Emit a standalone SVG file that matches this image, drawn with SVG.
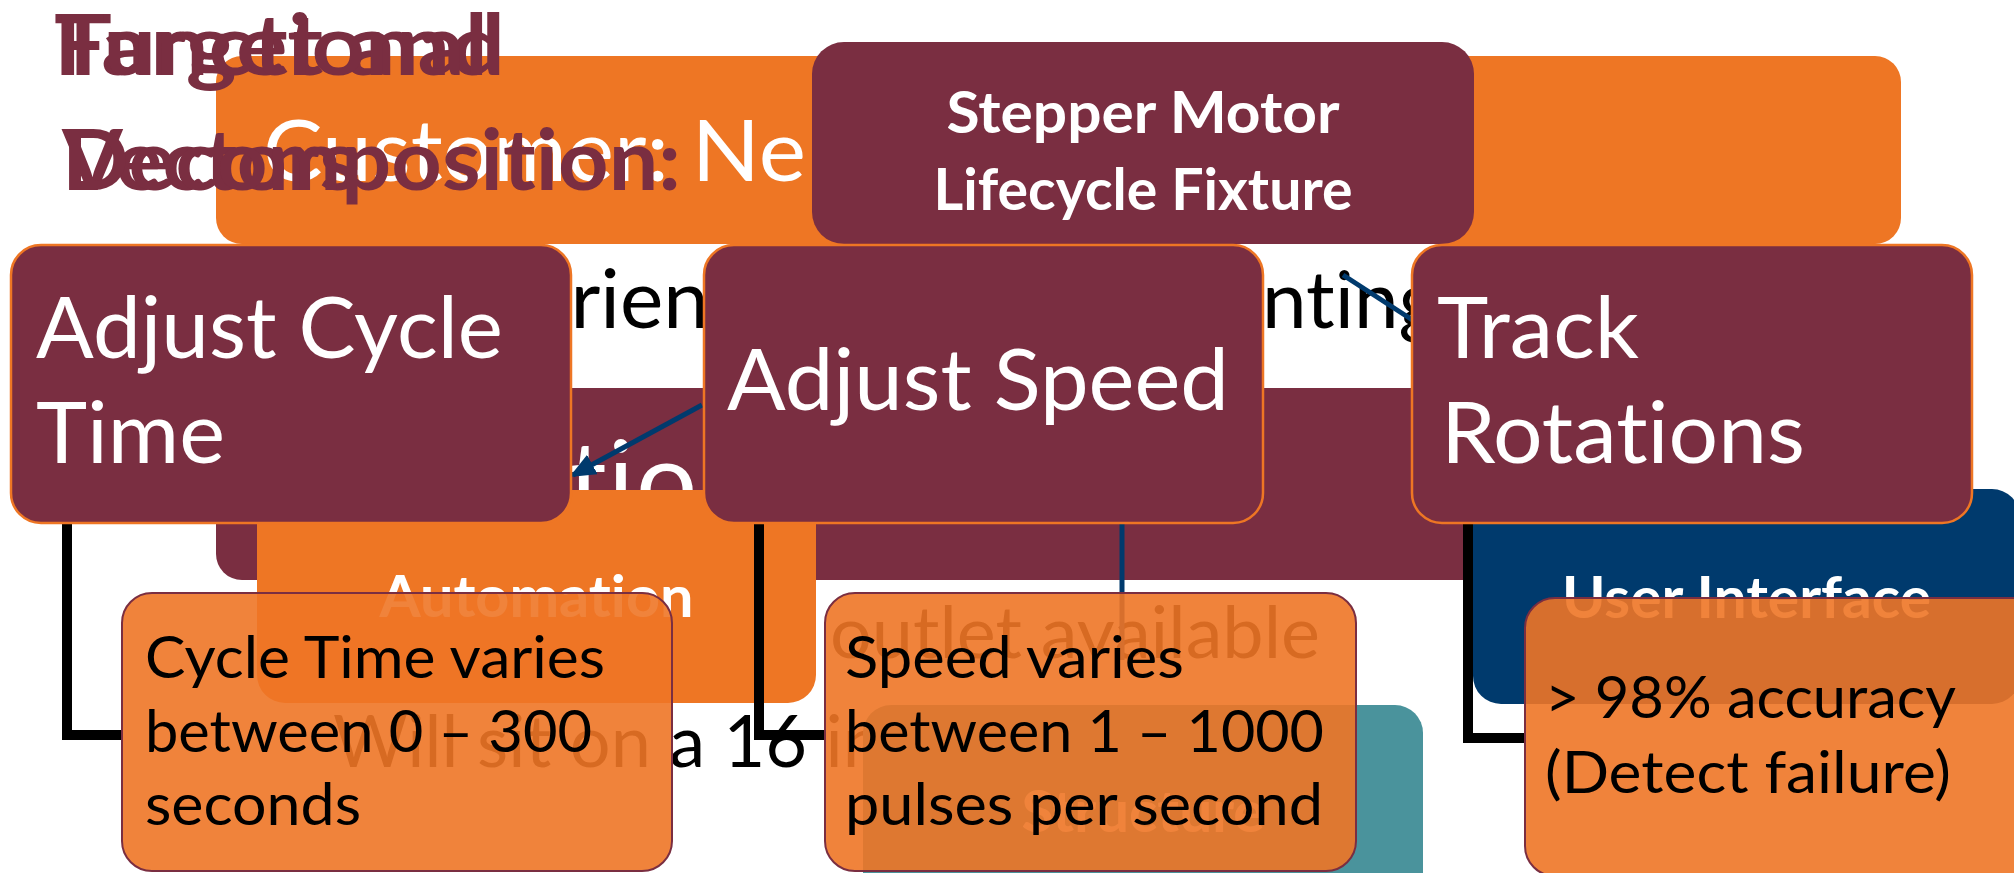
<svg xmlns="http://www.w3.org/2000/svg" width="2014" height="873" viewBox="0 0 2014 873">
<defs>
<style>
text { font-family: Lato, "Liberation Sans", sans-serif; font-variant-ligatures: none; }
.title { font-weight:700; font-size:84px; fill:#7A2E41; }
.big { font-size:86px; fill:#fff; }
.bul { font-size:71px; fill:#000; }
.lbl { font-weight:700; font-size:57px; fill:#fff; text-anchor:middle; }
.sub { font-size:59px; fill:#000; }
.stp { font-weight:700; font-size:57px; fill:#fff; text-anchor:middle; }
.top { fill:#7A2E41; stroke:#EE7624; stroke-width:2.5; }
.subbox { fill:#EE7626; fill-opacity:0.9; stroke:#7A2E41; stroke-width:2; }
.elb { fill:none; stroke:#000; stroke-width:10; }
.nv { fill:none; stroke:#003A6D; stroke-width:5; }
</style>
<marker id="ah" markerUnits="userSpaceOnUse" markerWidth="26" markerHeight="22" refX="22" refY="11" orient="auto"><path d="M0,0 L26,11 L0,22 Z" fill="#003A6D"/></marker>
</defs>
<rect width="2014" height="873" fill="#fff"/>

<g id="background-slide">
  <rect x="216" y="56" width="1685" height="188" rx="26" fill="#EE7624"/>
  <text class="big" x="263" y="181" textLength="543" lengthAdjust="spacingAndGlyphs">Customer: Ne</text>
  <text class="bul" x="524" y="328" style="font-size:82px">orient</text>
  <text class="bul" x="1262" y="328" style="font-size:80px">nting</text>
  <rect x="216" y="388" width="1290" height="192" rx="26" fill="#7A2E41"/>
  <text class="big" y="519" x="512 568 608 636" style="font-size:108px">atio</text>
  <text class="bul" x="830" y="658" textLength="490" lengthAdjust="spacingAndGlyphs">outlet available</text>
  <text class="bul" x="333" y="767" textLength="550" lengthAdjust="spacingAndGlyphs">Will sit on a 16 in</text>
  <rect x="257" y="490" width="559" height="213" rx="28" fill="#EE7624"/>
  <text class="lbl" x="536.5" y="617" textLength="314" lengthAdjust="spacingAndGlyphs">Automation</text>
  <rect x="863" y="705" width="560" height="220" rx="28" fill="#4A939C"/>
  <text class="lbl" x="1143" y="832" textLength="243" lengthAdjust="spacingAndGlyphs">Structure</text>
  <rect x="1473" y="489" width="547" height="215" rx="28" fill="#003A6D"/>
  <text class="lbl" x="1746.5" y="618" textLength="369" lengthAdjust="spacingAndGlyphs">User Interface</text>
</g>

<g id="title">
  <text class="title" x="54" y="75" textLength="451" lengthAdjust="spacingAndGlyphs">Target and</text>
  <text class="title" x="54" y="75" textLength="434" lengthAdjust="spacingAndGlyphs">Functional</text>
  <text class="title" x="62" y="190" textLength="296" lengthAdjust="spacingAndGlyphs">Vectors</text>
  <text class="title" x="62" y="190" textLength="619" lengthAdjust="spacingAndGlyphs">Decomposition:</text>
</g>

<g id="connectors">
  <path class="elb" d="M67,523 V735 H122"/>
  <path class="elb" d="M759,523 V735 H825"/>
  <path class="elb" d="M1468,523 V738 H1525"/>
  <line class="nv" x1="702" y1="405" x2="573" y2="475" marker-end="url(#ah)"/>
  <line class="nv" x1="1343" y1="275" x2="1414" y2="321"/>
  <line class="nv" x1="1122" y1="523" x2="1122" y2="660"/>
</g>

<g id="node-stepper">
  <rect x="812" y="42" width="662" height="202" rx="32" fill="#7A2E41"/>
  <text class="stp" x="1143" y="133" textLength="393" lengthAdjust="spacingAndGlyphs">Stepper Motor</text>
  <text class="stp" x="1143" y="210" textLength="419" lengthAdjust="spacingAndGlyphs">Lifecycle Fixture</text>
</g>
<g id="node-adjust-cycle">
  <rect class="top" x="11" y="245" width="560" height="278" rx="30"/>
  <text class="big" x="36" y="358" textLength="467" lengthAdjust="spacingAndGlyphs">Adjust Cycle</text>
  <text class="big" x="36" y="463" textLength="189" lengthAdjust="spacingAndGlyphs">Time</text>
</g>
<g id="node-adjust-speed">
  <rect class="top" x="704" y="245" width="559" height="278" rx="30"/>
  <text class="big" x="727" y="410" textLength="502" lengthAdjust="spacingAndGlyphs">Adjust Speed</text>
</g>
<g id="node-track">
  <rect class="top" x="1412" y="245" width="560" height="278" rx="30"/>
  <text class="big" x="1437" y="358" textLength="202" lengthAdjust="spacingAndGlyphs">Track</text>
  <text class="big" x="1441" y="463" textLength="364" lengthAdjust="spacingAndGlyphs">Rotations</text>
</g>
<g id="node-cycle-sub">
  <rect class="subbox" x="122" y="593" width="550" height="278" rx="30"/>
  <text class="sub" x="145" y="678" textLength="460" lengthAdjust="spacingAndGlyphs">Cycle Time varies</text>
  <text class="sub" x="145" y="752" textLength="447" lengthAdjust="spacingAndGlyphs">between 0 – 300</text>
  <text class="sub" x="145" y="825" textLength="216" lengthAdjust="spacingAndGlyphs">seconds</text>
</g>
<g id="node-speed-sub">
  <rect class="subbox" x="825" y="593" width="531" height="278" rx="30"/>
  <text class="sub" x="845" y="678" textLength="339" lengthAdjust="spacingAndGlyphs">Speed varies</text>
  <text class="sub" x="845" y="752" textLength="479" lengthAdjust="spacingAndGlyphs">between 1 – 1000</text>
  <text class="sub" x="845" y="825" textLength="478" lengthAdjust="spacingAndGlyphs">pulses per second</text>
</g>
<g id="node-accuracy-sub">
  <rect class="subbox" x="1525" y="598" width="560" height="278" rx="30"/>
  <text class="sub" x="1545" y="718" textLength="411" lengthAdjust="spacingAndGlyphs">&gt; 98% accuracy</text>
  <text class="sub" x="1545" y="793" textLength="406" lengthAdjust="spacingAndGlyphs">(Detect failure)</text>
</g>
</svg>
